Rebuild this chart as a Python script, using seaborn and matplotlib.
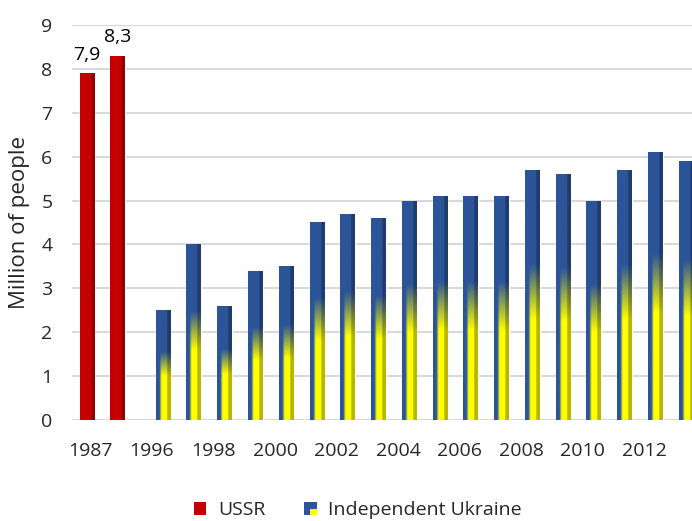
import numpy as np
import pandas as pd
import seaborn as sns
import matplotlib
matplotlib.use('Agg')
import matplotlib.pyplot as plt
from matplotlib.patches import Rectangle
from matplotlib.legend_handler import HandlerBase

# Data
years = ['1987', '1988', '1996', '1997', '1998', '1999', '2000', '2001', '2002', '2003',
         '2004', '2005', '2006', '2007', '2008', '2009', '2010', '2011', '2012', '2013']
ussr = [7.9, 8.3]
ukraine = [2.5, 4.0, 2.6, 3.4, 3.5, 4.5, 4.7, 4.6, 5.0, 5.1,
           5.1, 5.1, 5.7, 5.6, 5.0, 5.7, 6.1, 5.9]
series = ['USSR', 'Independent Ukraine']

df = pd.DataFrame({
    'Year': years,
    'Value': ussr + ukraine,
    'Series': [series[0]] * len(ussr) + [series[1]] * len(ukraine),
})

# Colours
red = np.array([0.78, 0.0, 0.0])
blue = np.array([0.17, 0.33, 0.60])
yellow = np.array([1.0, 1.0, 0.0])

sns.set_theme(style='white')
plt.rcParams['font.family'] = ['Open Sans', 'DejaVu Sans']

fig = plt.figure(figsize=(6.92, 5.21), dpi=100)
ax = fig.add_axes([0.104, 0.194, 0.896, 0.758])

sns.barplot(data=df, x='Year', y='Value', hue='Series', order=years, hue_order=series,
            palette=[tuple(red), tuple(blue)], dodge=True, width=0.95, legend=False,
            saturation=1, ax=ax, zorder=2)


def shade(bar, colour_fn):
    x, w, h = bar.get_x(), bar.get_width(), bar.get_height()
    ny, nx = 120, 24
    t = np.linspace(1, 0, ny)[:, None]  # top row first
    u = np.linspace(0, 1, nx)[None, :]
    img = colour_fn(u, t)
    im = ax.imshow(img, extent=[x, x + w, 0, h], aspect='auto', zorder=3,
                   interpolation='bilinear')
    im.set_clip_path(bar)


def ukraine_colour(u, t):
    wv = np.clip((0.62 - t) / 0.22, 0, 1)
    wh = np.clip((u - 0.22) / 0.15, 0, 1)
    wy = (wv * wh)[..., None]
    c = blue * (1 - wy) + yellow * wy
    side = np.where(u > 0.75, 0.72, 1.0)[..., None]
    c = c * side
    return np.clip(np.broadcast_to(c, (t.shape[0], u.shape[1], 3)), 0, 1)


def ussr_colour(u, t):
    c = np.ones((t.shape[0], u.shape[1], 1)) * red
    side = np.where(u > 0.75, 0.75, 1.0)[..., None]
    return np.clip(c * np.broadcast_to(side, c.shape), 0, 1)


for bar in ax.containers[0]:
    shade(bar, ussr_colour)
for bar in ax.containers[1]:
    shade(bar, ukraine_colour)

# Value labels on the USSR bars
for bar, v in zip(ax.containers[0], ussr):
    ax.annotate(f'{v:.1f}'.replace('.', ','), (bar.get_x() + bar.get_width() / 2, v),
                xytext=(0, 7), textcoords='offset points', ha='center', va='bottom',
                fontsize=14, color='black')

ax.set_xlim(-0.72, 19.43)
ax.set_ylim(0, 9)
ax.set_yticks(range(0, 10))
ax.set_xticks(np.arange(0, len(years), 2) - 0.12)
ax.set_xticklabels(years[::2])
ax.tick_params(axis='x', labelsize=14, pad=16, length=0)
ax.tick_params(axis='y', labelsize=14, pad=14, length=0)
ax.yaxis.grid(True, color='#d9d9d9', linewidth=1.5, zorder=0)
ax.set_axisbelow(True)
for s in ax.spines.values():
    s.set_visible(False)
ax.set_xlabel('')
ax.set_ylabel('Million of people', fontsize=16, labelpad=8)


class UkraineHandler(HandlerBase):
    def create_artists(self, legend, orig_handle, xdescent, ydescent, width, height,
                       fontsize, trans):
        b = Rectangle((-xdescent, -ydescent), width, height, fc=blue, ec='none', transform=trans)
        y = Rectangle((-xdescent + width * 0.5, -ydescent), width * 0.5, height * 0.45,
                      fc=yellow, ec='none', transform=trans)
        return [b, y]


h_ussr = Rectangle((0, 0), 1, 1, fc=red, ec='none')
h_ukr = Rectangle((0, 0), 1, 1, fc=blue, ec='none')
fig.legend([h_ussr, h_ukr], series, loc='lower center', bbox_to_anchor=(0.517, -0.03),
           ncol=2, frameon=False, fontsize=14, handlelength=0.65, handleheight=0.65,
           columnspacing=2.0, handletextpad=0.6,
           handler_map={h_ukr: UkraineHandler()})

fig.savefig('out.png', dpi=100)
